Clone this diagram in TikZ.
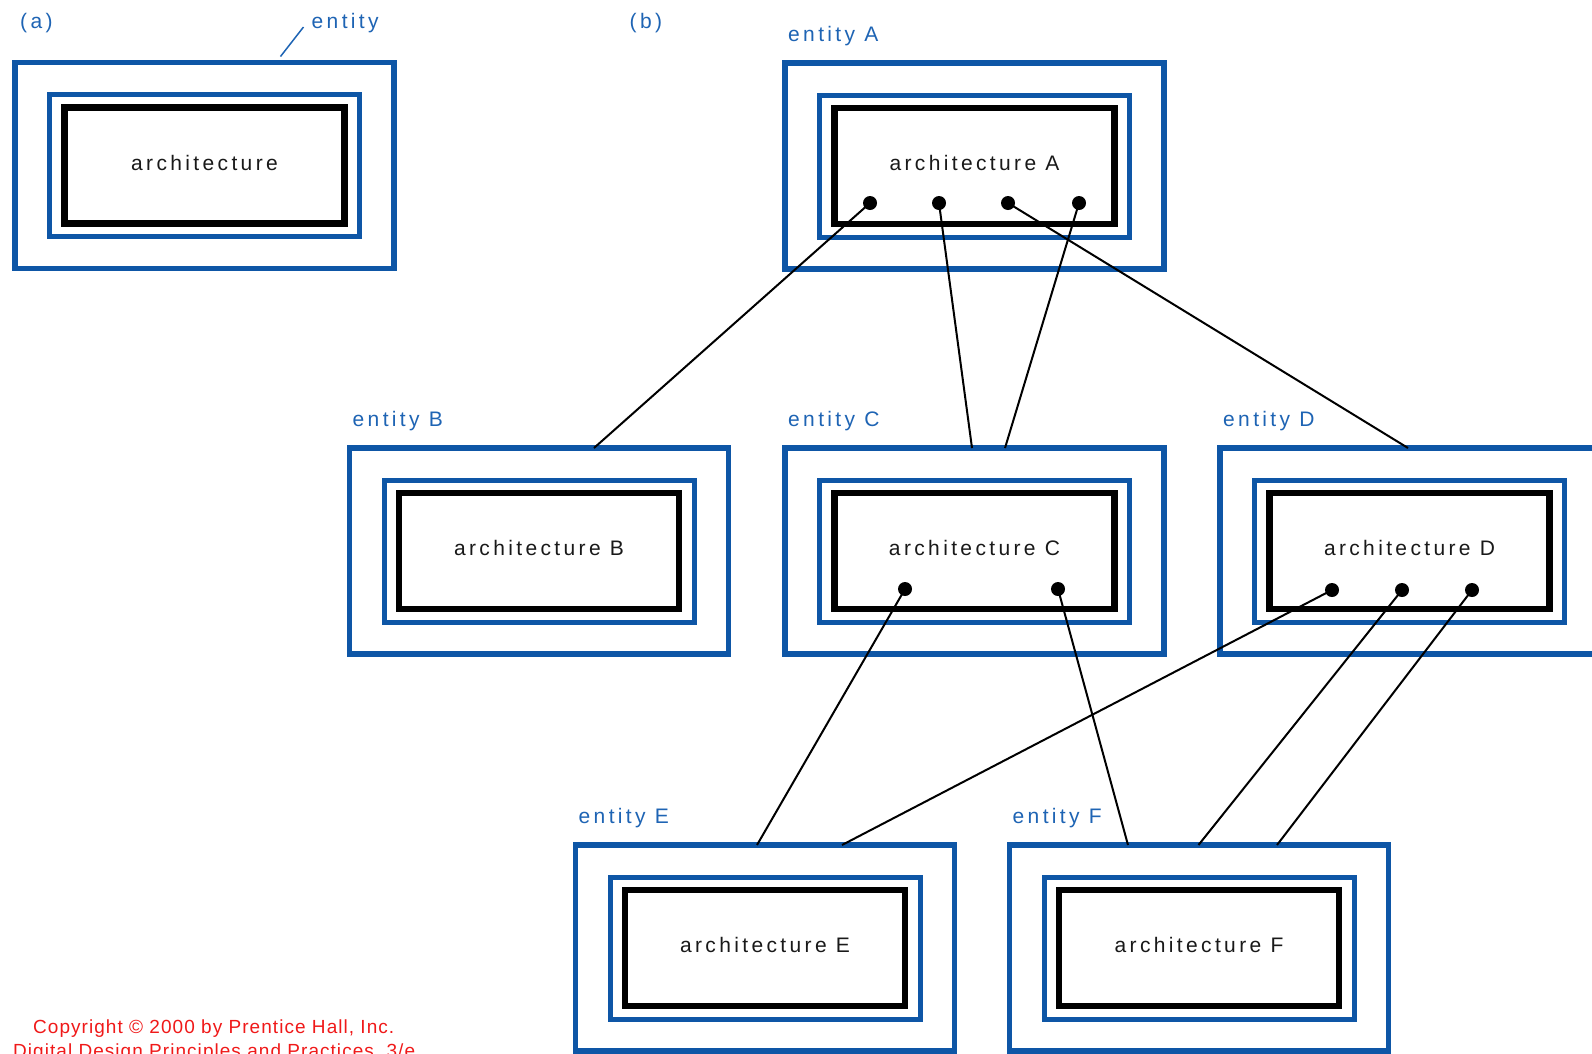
\documentclass[tikz,border=0pt]{standalone}
\usepackage{fontspec}
\newfontfamily\archfont[LetterSpace=16]{Liberation Sans}
\newfontfamily\copyfont[LetterSpace=5.5]{Liberation Sans}
\definecolor{frameblue}{RGB}{14,86,166}
\definecolor{labelblue}{RGB}{30,100,180}
\definecolor{ink}{RGB}{25,25,25}
\definecolor{copyred}{RGB}{240,25,25}

\begin{document}
\begin{tikzpicture}[x=1pt, y=-1pt,
  entity/.style={draw=frameblue, line width=5.5pt, minimum width=379pt,
    minimum height=206pt, inner sep=0pt, outer sep=0pt},
  wrapbox/.style={draw=frameblue, line width=5pt, minimum width=310pt,
    minimum height=142pt, inner sep=0pt, outer sep=0pt},
  archbox/.style={draw=black, line width=6.5pt, minimum width=280pt,
    minimum height=116pt, inner sep=0pt, outer sep=0pt},
  archtext/.style={inner sep=0pt, text=ink,
    font=\archfont\fontsize{21pt}{25pt}\selectfont},
  elabel/.style={anchor=base west, inner sep=0pt, text=labelblue,
    font=\archfont\fontsize{21pt}{25pt}\selectfont},
  pin/.style={circle, fill=black, minimum size=14pt, inner sep=0pt, outer sep=0pt},
  wire/.style={draw=black, line width=2pt},
  leader/.style={draw=labelblue, line width=1.5pt},
  copyline/.style={anchor=base west, inner sep=0pt, text=copyred,
    font=\copyfont\fontsize{19pt}{23pt}\selectfont}]

\useasboundingbox[fill=white] (0,0) rectangle (1592,1053);

% (a) a single entity with its architecture
\node[elabel] (tag-a) at (20,28) {(a)};
\node[entity] (E0) at (204.5,165.5) {};
\node[wrapbox] (E0-w) at (E0.center) {};
\node[archbox] (E0-a) at (E0.center) {};
\node[archtext] (E0-t) at ([yshift=3pt]E0.center) {architecture};
\node[elabel] (E0-l) at (311.5,28) {entity};
\draw[leader] ([xshift=265.5pt,yshift=6pt]E0.north west) -- ([xshift=-8pt,yshift=1pt]E0-l.base west);

% (b) a hierarchy of entities
\node[elabel] (tag-b) at (629.5,28) {(b)};

\node[entity] (A) at (974.5,166) {};
\node[entity] (B) at (539,551) {};
\node[entity] (C) at (974.5,551) {};
\node[entity] (D) at (1409.5,551) {};
\node[entity] (E) at (765,948) {};
\node[entity] (F) at (1199,948) {};

\foreach \n in {A,B,C,D,E,F}{
  \node[wrapbox] (\n-w) at (\n.center) {};
  \node[archbox] (\n-a) at (\n.center) {};
  \node[archtext] (\n-t) at ([yshift=3pt]\n.center) {architecture \n};
  \node[elabel] (\n-l) at ([xshift=3pt,yshift=22pt]\n.north west) {entity \n};
}

% component instance points
\node[pin] (A1) at (870,203) {};
\node[pin] (A2) at (939,203) {};
\node[pin] (A3) at (1008,203) {};
\node[pin] (A4) at (1079,203) {};
\node[pin] (C1) at (905,589) {};
\node[pin] (C2) at (1058,589) {};
\node[pin] (D1) at (1332,590) {};
\node[pin] (D2) at (1402,590) {};
\node[pin] (D3) at (1472,590) {};

% instances bound to lower-level entities
\draw[wire] (A1.center) -- ([xshift=244.5pt]B.north west);
\draw[wire] (A2.center) -- ([xshift=187pt]C.north west);
\draw[wire] (A4.center) -- ([xshift=220pt]C.north west);
\draw[wire] (A3.center) -- ([xshift=188pt]D.north west);
\draw[wire] (C1.center) -- ([xshift=181.5pt]E.north west);
\draw[wire] (D1.center) -- ([xshift=266.5pt]E.north west);
\draw[wire] (C2.center) -- ([xshift=118.5pt]F.north west);
\draw[wire] (D2.center) -- ([xshift=189pt]F.north west);
\draw[wire] (D3.center) -- ([xshift=267.5pt]F.north west);

% credit lines
\node[copyline] (copy1) at (33,1033) {Copyright \textcopyright{} 2000 by Prentice Hall, Inc.};
\node[copyline] (copy2) at (13,1057) {Digital Design Principles and Practices, 3/e};
\end{tikzpicture}
\end{document}
